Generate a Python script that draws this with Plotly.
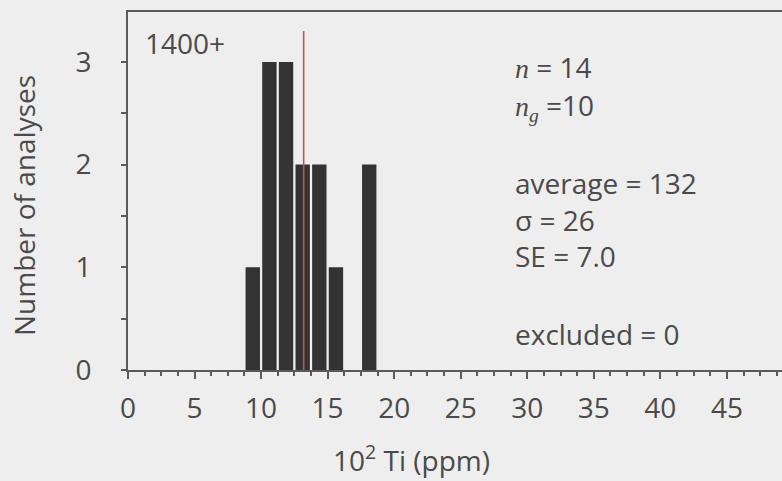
import plotly.graph_objects as go

# Histogram of Ti concentrations (10^2 ppm), bins of 1.25
bin_width = 1.25
bin_lo = [8.75, 10.0, 11.25, 12.5, 13.75, 15.0, 17.5]
counts = [1, 3, 3, 2, 2, 1, 2]

average = 132          # ppm/10 scale -> 13.2 on the axis
sigma = 26
se = 7.0
n_total = 14
n_g = 10
excluded = 0
avg_line_top = 3.3

x_ticks = [0, 5, 10, 15, 20, 25, 30, 35, 40, 45]
y_ticks = [0, 1, 2, 3]

FONT = "Open Sans"
TXT = "#4a4a4a"
AX = "#5a5a5a"
BG = "#eeeeee"
FS = 28

centers = [lo + bin_width / 2 for lo in bin_lo]

fig = go.Figure()
fig.add_trace(go.Bar(
    x=centers, y=counts, width=1.08,
    marker=dict(color="#333333", line=dict(width=0)),
    showlegend=False, hoverinfo="skip",
))
fig.add_trace(go.Scatter(
    x=[average / 10, average / 10], y=[0, avg_line_top],
    mode="lines", line=dict(color="#b85a4c", width=1.6),
    showlegend=False, hoverinfo="skip",
))

x_max = 49.14
y_max = 3.486

fig.update_layout(
    width=782, height=481,
    margin=dict(l=128, r=0, t=12, b=111),
    paper_bgcolor=BG, plot_bgcolor=BG,
    font=dict(family=FONT, size=FS, color=TXT),
    xaxis=dict(
        range=[0, x_max], tickvals=x_ticks, ticks="outside", ticklen=7,
        tickwidth=2, tickcolor=AX, showline=True, linecolor=AX, linewidth=2,
        mirror=True, showgrid=False, zeroline=False,
        minor=dict(dtick=bin_width, tick0=0, ticks="outside", ticklen=4,
                   tickwidth=1.5, tickcolor=AX, showgrid=False),
        tickfont=dict(size=FS, color=TXT), ticklabelstandoff=5,
    ),
    yaxis=dict(
        range=[0, y_max], tickvals=y_ticks, ticks="outside", ticklen=5,
        tickwidth=2, tickcolor=AX, showline=True, linecolor=AX, linewidth=2,
        showgrid=False, zeroline=False,
        minor=dict(dtick=0.5, tick0=0, ticks="outside", ticklen=5,
                   tickwidth=2, tickcolor=AX, showgrid=False),
        tickfont=dict(size=FS, color=TXT), ticklabelstandoff=24,
    ),
)

serif_n = '<span style="font-family:Liberation Serif"><i>n</i></span>'
serif_g = '<span style="font-family:Liberation Serif"><i>g</i></span>'

# pixel -> plot-area fraction helpers (plot area: x 128..782, y 12..370)
def fx(p):
    return (p - 128) / 654

def fy(p):
    return (370 - p) / 358

stats = [
    (67, f"{serif_n} = {n_total}"),
    (106, f"{serif_n}<sub>{serif_g}</sub> ={n_g}"),
    (183, f"average = {average}"),
    (220, f"\u03c3 = {sigma}"),
    (256, f"SE = {se:.1f}"),
    (334, f"excluded = {excluded}"),
]
for ypix, txt in stats:
    fig.add_annotation(x=fx(513), y=fy(ypix), xref="paper", yref="paper",
                       text=txt, showarrow=False, xanchor="left",
                       yanchor="middle", font=dict(size=FS, color=TXT))

fig.add_annotation(x=fx(143), y=fy(43), xref="paper", yref="paper",
                   text="1400+", showarrow=False, xanchor="left",
                   yanchor="middle", font=dict(size=FS, color=TXT))

# axis titles
fig.add_annotation(x=fx(24), y=fy(206), xref="paper", yref="paper",
                   text="Number of analyses", textangle=-90, showarrow=False,
                   xanchor="center", yanchor="middle",
                   font=dict(size=FS, color=TXT))
fig.add_annotation(x=fx(331), y=fy(458), xref="paper", yref="paper",
                   text="10<sup>2</sup> Ti (ppm)", showarrow=False,
                   xanchor="left", yanchor="middle",
                   font=dict(size=FS, color=TXT))

fig.write_html("out.html")
